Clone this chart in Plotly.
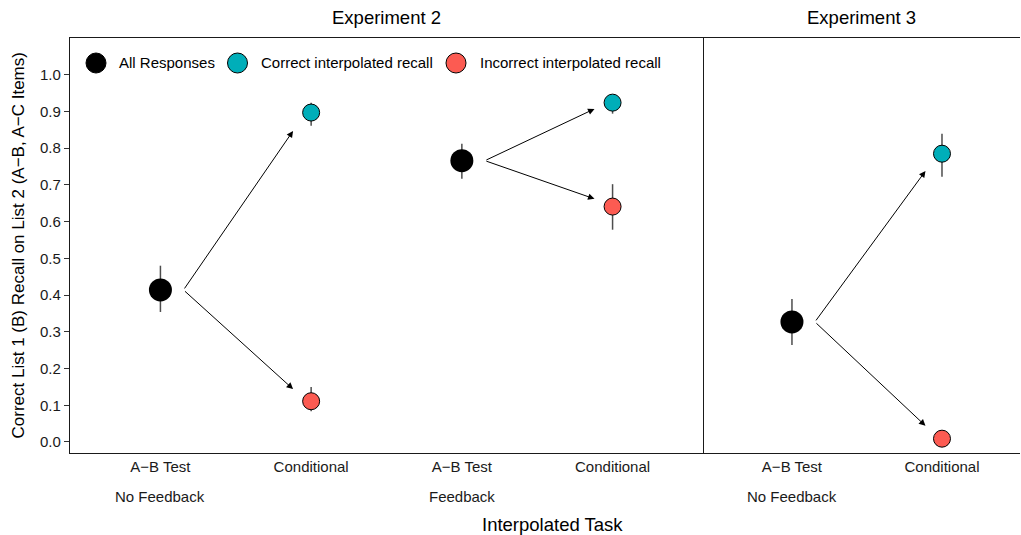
import plotly.graph_objects as go

# ---------------- data ----------------
exp2_positions = [1, 2, 3, 4]
exp2_ticklabels = ["A\u2212B Test", "Conditional", "A\u2212B Test", "Conditional"]
exp2_groups = ["No Feedback", "Feedback"]
exp2_group_pos = [1, 3]

exp2_all = [0.414, 0.766]
exp2_all_lo = [0.354, 0.717]
exp2_all_hi = [0.480, 0.812]
exp2_correct = [0.897, 0.924]
exp2_correct_lo = [0.861, 0.894]
exp2_correct_hi = [0.924, 0.935]
exp2_incorrect = [0.111, 0.641]
exp2_incorrect_lo = [0.084, 0.578]
exp2_incorrect_hi = [0.150, 0.702]
exp2_arrow_up_end = [0.847, 0.907]
exp2_arrow_down_end = [0.144, 0.662]

exp3_positions = [1, 2]
exp3_ticklabels = ["A\u2212B Test", "Conditional"]
exp3_groups = ["No Feedback"]
exp3_group_pos = [1]

exp3_all = [0.327]
exp3_all_lo = [0.264]
exp3_all_hi = [0.389]
exp3_correct = [0.785]
exp3_correct_lo = [0.722]
exp3_correct_hi = [0.839]
exp3_incorrect = [0.009]
exp3_incorrect_lo = [0.0]
exp3_incorrect_hi = [0.016]
exp3_arrow_up_end = [0.738]
exp3_arrow_down_end = [0.044]

legend_labels = ["All Responses", "Correct interpolated recall", "Incorrect interpolated recall"]

# ---------------- styles ----------------
FONT = "Liberation Sans, Arial, Helvetica, sans-serif"
BLACK = "#000000"
CYAN = "#00AEB9"
RED = "#FC5B52"
ERR = "#4d4d4d"
AXIS = "#1a1a1a"
ARROW_START = 0.153

fig = go.Figure()


def add_points(xs, ys, lo, hi, color, size, xa, ya, outline):
    fig.add_trace(go.Scatter(
        x=xs, y=ys, mode="markers", xaxis=xa, yaxis=ya, showlegend=False,
        marker=dict(color=color, size=size,
                    line=dict(color="#000000", width=1 if outline else 0)),
        error_y=dict(type="data", symmetric=False,
                     array=[h - v for h, v in zip(hi, ys)],
                     arrayminus=[v - l for l, v in zip(lo, ys)],
                     color=ERR, thickness=1.5, width=0),
        hoverinfo="skip",
    ))


def panel(group_pos, all_v, all_lo, all_hi, cor, cor_lo, cor_hi, inc, inc_lo, inc_hi,
          up_end, down_end, xa, ya, end_off):
    xs_all = group_pos
    xs_cond = [p + 1 for p in group_pos]
    add_points(xs_all, all_v, all_lo, all_hi, BLACK, 23, xa, ya, False)
    add_points(xs_cond, cor, cor_lo, cor_hi, CYAN, 17, xa, ya, True)
    add_points(xs_cond, inc, inc_lo, inc_hi, RED, 17, xa, ya, True)
    for i, p in enumerate(group_pos):
        for yend in (up_end[i], down_end[i]):
            fig.add_annotation(
                x=p + 1 - end_off, y=yend, ax=p + ARROW_START, ay=all_v[i],
                xref=xa, yref=ya, axref=xa, ayref=ya,
                text="", showarrow=True, arrowhead=2, arrowsize=1.3,
                arrowwidth=1, arrowcolor="#000000", standoff=0, startstandoff=0,
            )


panel(exp2_group_pos, exp2_all, exp2_all_lo, exp2_all_hi,
      exp2_correct, exp2_correct_lo, exp2_correct_hi,
      exp2_incorrect, exp2_incorrect_lo, exp2_incorrect_hi,
      exp2_arrow_up_end, exp2_arrow_down_end, "x", "y", 0.12)
panel(exp3_group_pos, exp3_all, exp3_all_lo, exp3_all_hi,
      exp3_correct, exp3_correct_lo, exp3_correct_hi,
      exp3_incorrect, exp3_incorrect_lo, exp3_incorrect_hi,
      exp3_arrow_up_end, exp3_arrow_down_end, "x2", "y2", 0.11)

# ---------------- layout ----------------
# body margin is removed in the page (post_script), so page pixels = figure pixels
W, H = 1021, 535
PLOT_L, PLOT_R, PLOT_T, PLOT_B = 70, 1020, 38, 453
ML, MR, MT, MB = PLOT_L, W - PLOT_R, PLOT_T, H - PLOT_B
PW = PLOT_R - PLOT_L
PH = PLOT_B - PLOT_T
split = (703 - PLOT_L) / PW


def px_x(px):
    return (px - PLOT_L) / PW


def px_y(py):
    return (PLOT_B - py) / PH


yticks = [round(i * 0.1, 1) for i in range(11)]
ytext = [f"{v:.1f}" for v in yticks]

axis_common = dict(showgrid=False, zeroline=False, linecolor=AXIS, linewidth=1.2)

fig.update_layout(
    width=W, height=H,
    margin=dict(l=ML, r=MR, t=MT, b=MB),
    plot_bgcolor="white", paper_bgcolor="white",
    font=dict(family=FONT, color="#1a1a1a", size=15),
    showlegend=False,
    xaxis=dict(domain=[0, split], range=[0.40, 4.60], tickvals=exp2_positions,
               ticktext=exp2_ticklabels, ticks="", showline=True, mirror=True,
               tickfont=dict(size=15, color="#1a1a1a"), **axis_common),
    yaxis=dict(range=[-0.03, 1.10], tickvals=yticks, ticktext=ytext, ticks="outside",
               ticklen=5, tickcolor="#333333", showline=True, mirror=True,
               tickfont=dict(size=15, color="#1a1a1a"), **axis_common),
    xaxis2=dict(domain=[split, 1], range=[0.407, 2.52], tickvals=exp3_positions,
                ticktext=exp3_ticklabels, ticks="", showline=True, mirror=True,
                anchor="y2", tickfont=dict(size=15, color="#1a1a1a"), **axis_common),
    yaxis2=dict(range=[-0.03, 1.10], anchor="x2", showticklabels=False, ticks="",
                showline=False, **axis_common),
)

annotations = []
# second-row group labels
for g, p in zip(exp2_groups, exp2_group_pos):
    annotations.append(dict(x=p, y=px_y(496), xref="x", yref="paper",
                            text=g, showarrow=False, xanchor="center", yanchor="middle",
                            font=dict(size=15, color="#1a1a1a")))
for g, p in zip(exp3_groups, exp3_group_pos):
    annotations.append(dict(x=p, y=px_y(496), xref="x2", yref="paper",
                            text=g, showarrow=False, xanchor="center", yanchor="middle",
                            font=dict(size=15, color="#1a1a1a")))
# panel titles
annotations.append(dict(x=split / 2, y=px_y(17.5), xref="paper", yref="paper",
                        text="Experiment 2", showarrow=False, xanchor="center", yanchor="middle",
                        font=dict(size=18.5, color="#000")))
annotations.append(dict(x=(split + 1) / 2, y=px_y(17.5), xref="paper", yref="paper",
                        text="Experiment 3", showarrow=False, xanchor="center", yanchor="middle",
                        font=dict(size=18.5, color="#000")))
# axis titles
annotations.append(dict(x=px_x(552), y=px_y(524), xref="paper", yref="paper",
                        text="Interpolated Task", showarrow=False, xanchor="center",
                        yanchor="middle", font=dict(size=18.5, color="#000")))
annotations.append(dict(x=px_x(18), y=0.5, xref="paper", yref="paper",
                        text="Correct List 1 (B) Recall on List 2 (A\u2212B, A\u2212C Items)",
                        textangle=-90, showarrow=False, xanchor="center", yanchor="middle",
                        font=dict(size=17, color="#000")))

# manual legend (symbols drawn larger than plotly's legend allows)
legend_y = px_y(63)
legend_sym_px = [96, 237.5, 456]
legend_txt_px = [117, 259, 478]
legend_colors = [BLACK, CYAN, RED]
shapes = []
for lab, sx, tx, col in zip(legend_labels, legend_sym_px, legend_txt_px, legend_colors):
    shapes.append(dict(type="circle", xref="paper", yref="paper",
                       xsizemode="pixel", ysizemode="pixel",
                       xanchor=px_x(sx), yanchor=legend_y,
                       x0=-10, x1=10, y0=-10, y1=10,
                       fillcolor=col, line=dict(color="#000", width=1)))
    annotations.append(dict(x=px_x(tx), y=legend_y, xref="paper", yref="paper",
                            text=lab, showarrow=False, xanchor="left", yanchor="middle",
                            font=dict(size=15, color="#000")))

fig.update_layout(annotations=list(fig.layout.annotations) + annotations, shapes=shapes)

fig.write_html("out.html", config={"displayModeBar": False},
               post_script="document.body.style.margin='0';")
